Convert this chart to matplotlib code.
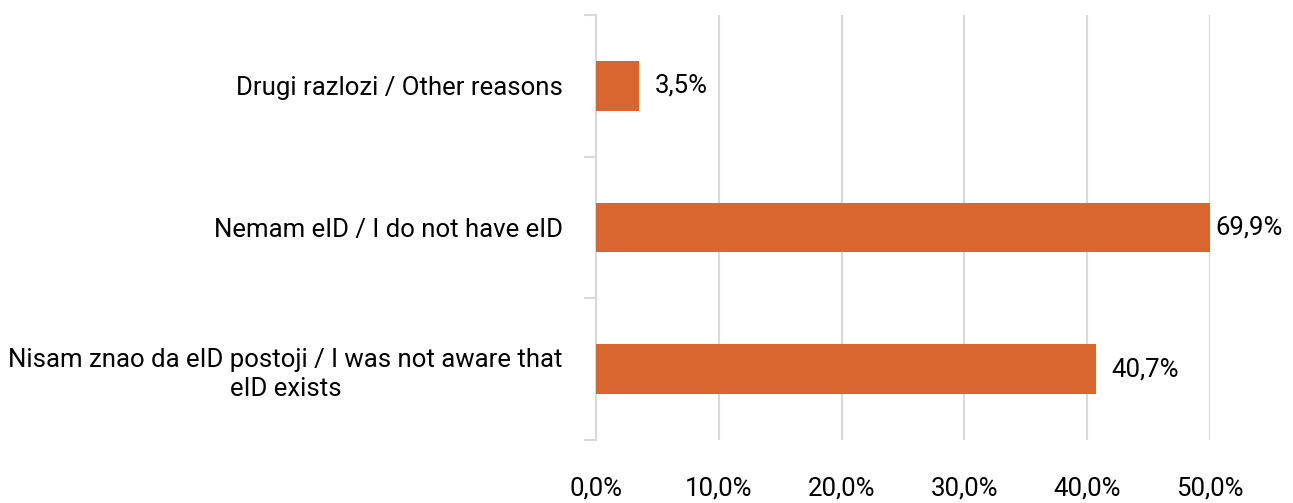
import matplotlib
matplotlib.use('Agg')
import matplotlib.pyplot as plt
import numpy as np

plt.rcParams['font.family'] = ['Roboto', 'DejaVu Sans']

# data (top to bottom in the picture)
categories = ['Drugi razlozi / Other reasons',
              'Nemam eID / I do not have eID',
              'Nisam znao da eID postoji / I was not aware that\neID exists']
values = [3.5, 69.9, 40.7]
x_ticks = [0, 10, 20, 30, 40, 50]

bar_color = '#D9652F'
grid_color = '#D9D9D9'
text_color = '#000000'
x_max = 50
fs = 18.5

fig = plt.figure(figsize=(12.93, 5.03), dpi=100)
ax = fig.add_axes([596 / 1293, 1 - 440 / 503, (1210 - 596) / 1293, (440 - 15) / 503])

# reverse so first category is at the top
cats = categories[::-1]
vals = values[::-1]
y = np.arange(len(cats))

ax.barh(y, vals, height=0.35, color=bar_color, zorder=3)

for yi, v in zip(y, vals):
    xpos = min(v, x_max)
    off = 11 if v <= x_max else 4
    ax.annotate(f'{v:.1f}%'.replace('.', ','), (xpos, yi), xytext=(off, 0),
                textcoords='offset points', va='center', ha='left',
                fontsize=fs, color=text_color, annotation_clip=False)

ax.set_xlim(0, x_max)
ax.set_ylim(-0.5, len(cats) - 0.5)

ax.set_xticks(x_ticks)
ax.set_xticklabels([f'{t:.1f}%'.replace('.', ',') for t in x_ticks],
                   fontsize=fs, color=text_color)
ax.tick_params(axis='x', length=0, pad=26)

# category boundaries as major ticks, labels on minor ticks
ax.set_yticks(np.arange(-0.5, len(cats), 1.0))
ax.set_yticklabels([])
ax.set_yticks(y, minor=True)
ax.set_yticklabels(cats, minor=True, fontsize=fs, color=text_color,
                   ha='right', multialignment='center', linespacing=1.3)
ax.tick_params(axis='y', which='major', length=9, width=1.5, color=grid_color)
ax.tick_params(axis='y', which='minor', length=0, pad=24)

ax.grid(axis='x', color=grid_color, linewidth=1.5, zorder=0)
for s in ['top', 'right', 'bottom']:
    ax.spines[s].set_visible(False)
ax.spines['left'].set_color(grid_color)
ax.spines['left'].set_linewidth(1.5)

fig.savefig('out.png', dpi=100)
